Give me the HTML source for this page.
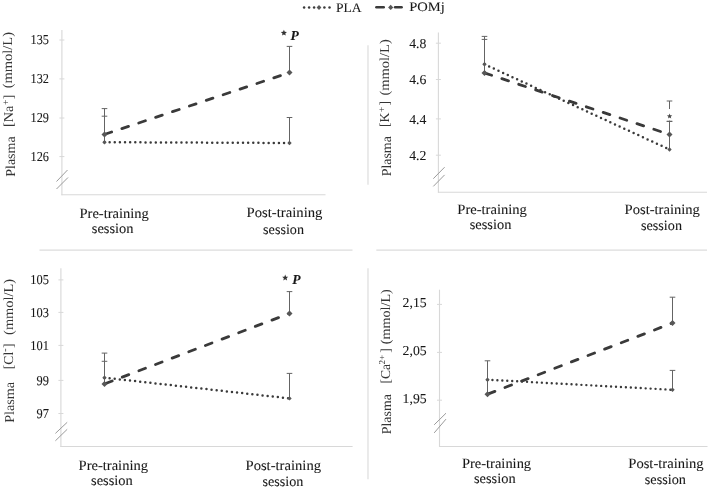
<!DOCTYPE html>
<html><head><meta charset="utf-8"><style>
html,body{margin:0;padding:0;background:#fff;overflow:hidden;}
svg{display:block;will-change:transform;filter:blur(0.3px);}
text{font-family:"Liberation Serif",serif;text-rendering:geometricPrecision;fill:#181818;stroke:#181818;stroke-width:0.08px;}
.ttl text{fill:#353535;stroke:none;}
</style></head><body>
<svg width="709" height="488" viewBox="0 0 709 488">
<line x1="39.5" y1="250.2" x2="352.5" y2="250.2" stroke="#dcdcdc" stroke-width="1.2"/>
<line x1="376.3" y1="250.2" x2="707" y2="250.2" stroke="#dcdcdc" stroke-width="1.2"/>
<line x1="368" y1="45.3" x2="368" y2="184.8" stroke="#e2e2e2" stroke-width="1.4"/>
<line x1="368" y1="268.2" x2="368" y2="479.2" stroke="#e2e2e2" stroke-width="1.4"/>
<line x1="61.9" y1="30" x2="61.9" y2="195.2" stroke="#d8d8d8" stroke-width="1.1" />
<line x1="61.4" y1="194.7" x2="325.5" y2="194.7" stroke="#d8d8d8" stroke-width="1.1" />
<line x1="59.4" y1="40" x2="64.4" y2="40" stroke="#d8d8d8" stroke-width="1" />
<text x="30.5" y="43.9" font-size="13.6" text-anchor="start" textLength="18.4" lengthAdjust="spacingAndGlyphs" >135</text>
<line x1="59.4" y1="78.9" x2="64.4" y2="78.9" stroke="#d8d8d8" stroke-width="1" />
<text x="30.5" y="82.8" font-size="13.6" text-anchor="start" textLength="18.4" lengthAdjust="spacingAndGlyphs" >132</text>
<line x1="59.4" y1="118" x2="64.4" y2="118" stroke="#d8d8d8" stroke-width="1" />
<text x="30.5" y="121.9" font-size="13.6" text-anchor="start" textLength="18.4" lengthAdjust="spacingAndGlyphs" >129</text>
<line x1="59.4" y1="156.6" x2="64.4" y2="156.6" stroke="#d8d8d8" stroke-width="1" />
<text x="30.5" y="160.5" font-size="13.6" text-anchor="start" textLength="18.4" lengthAdjust="spacingAndGlyphs" >126</text>
<line x1="56.5" y1="181.5" x2="67.5" y2="170" stroke="#9a9a9a" stroke-width="1" />
<line x1="56.5" y1="189" x2="68" y2="177.5" stroke="#9a9a9a" stroke-width="1" />
<g class="ttl" transform="translate(14.5,176.8) rotate(-90)"><text x="0" y="0" font-size="13.6" textLength="40.5" lengthAdjust="spacingAndGlyphs">Plasma</text><text x="49.9" y="-1.1" font-size="13.6" textLength="21.2" lengthAdjust="spacingAndGlyphs">[Na</text><text x="71.7" y="-5.5" font-size="9.8">+</text><text x="77.6" y="-1.1" font-size="13.6">]</text><text x="88.5" y="-2.3" font-size="13.6" textLength="56.3" lengthAdjust="spacingAndGlyphs">(mmol/L)</text></g>
<text x="79.5" y="217.5" font-size="14.2" textLength="69.3" lengthAdjust="spacingAndGlyphs">Pre-training</text><text x="91.8" y="233.3" font-size="14.2" textLength="41.8" lengthAdjust="spacingAndGlyphs">session</text><text x="246.6" y="217.3" font-size="14.2" textLength="75.8" lengthAdjust="spacingAndGlyphs">Post-training</text><text x="263.1" y="233.5" font-size="14.2" textLength="40.9" lengthAdjust="spacingAndGlyphs">session</text>
<line x1="104.5" y1="134.4" x2="104.5" y2="108.6" stroke="#646464" stroke-width="1" />
<line x1="101.7" y1="108.6" x2="107.3" y2="108.6" stroke="#646464" stroke-width="1" />
<line x1="104.5" y1="142.2" x2="104.5" y2="116.2" stroke="#646464" stroke-width="1" />
<line x1="101.7" y1="116.2" x2="107.3" y2="116.2" stroke="#646464" stroke-width="1" />
<line x1="289.5" y1="72.6" x2="289.5" y2="46.4" stroke="#646464" stroke-width="1" />
<line x1="286.7" y1="46.4" x2="292.3" y2="46.4" stroke="#646464" stroke-width="1" />
<line x1="289.5" y1="143" x2="289.5" y2="117.5" stroke="#646464" stroke-width="1" />
<line x1="286.7" y1="117.5" x2="292.3" y2="117.5" stroke="#646464" stroke-width="1" />
<line x1="104.5" y1="142.2" x2="289.5" y2="143" stroke="#3a3a3a" stroke-width="2.5" stroke-linecap="round" stroke-dasharray="0 5.13"/>
<line x1="104.5" y1="134.4" x2="289.5" y2="72.6" stroke="#3a3a3a" stroke-width="2.8" stroke-linecap="round" stroke-dasharray="7.0 10.8" stroke-dashoffset="-0.5"/>
<path d="M104.5 140.0L106.7 142.2L104.5 144.39999999999998L102.3 142.2Z" fill="#575757"/>
<path d="M289.5 140.8L291.7 143L289.5 145.2L287.3 143Z" fill="#575757"/>
<path d="M104.5 131.4L107.5 134.4L104.5 137.4L101.5 134.4Z" fill="#575757"/>
<path d="M289.5 69.6L292.5 72.6L289.5 75.6L286.5 72.6Z" fill="#575757"/>
<polygon points="283.90,29.80 284.75,31.83 286.94,32.01 285.28,33.45 285.78,35.59 283.90,34.45 282.02,35.59 282.52,33.45 280.86,32.01 283.05,31.83" fill="#333"/><text x="290.6" y="39.5" font-size="13.6" font-weight="bold" font-style="italic">P</text>
<line x1="438.4" y1="32.4" x2="438.4" y2="192.7" stroke="#d8d8d8" stroke-width="1.1" />
<line x1="437.9" y1="192.2" x2="707" y2="192.2" stroke="#d8d8d8" stroke-width="1.1" />
<line x1="435.9" y1="43.2" x2="440.9" y2="43.2" stroke="#d8d8d8" stroke-width="1" />
<text x="409.2" y="48.0" font-size="13.6" text-anchor="start" textLength="17.2" lengthAdjust="spacingAndGlyphs" >4.8</text>
<line x1="435.9" y1="79.5" x2="440.9" y2="79.5" stroke="#d8d8d8" stroke-width="1" />
<text x="409.2" y="84.3" font-size="13.6" text-anchor="start" textLength="17.2" lengthAdjust="spacingAndGlyphs" >4.6</text>
<line x1="435.9" y1="118.9" x2="440.9" y2="118.9" stroke="#d8d8d8" stroke-width="1" />
<text x="409.2" y="123.7" font-size="13.6" text-anchor="start" textLength="17.2" lengthAdjust="spacingAndGlyphs" >4.4</text>
<line x1="435.9" y1="155.2" x2="440.9" y2="155.2" stroke="#d8d8d8" stroke-width="1" />
<text x="409.2" y="160.0" font-size="13.6" text-anchor="start" textLength="17.2" lengthAdjust="spacingAndGlyphs" >4.2</text>
<line x1="433.3" y1="178.7" x2="444.6" y2="167.2" stroke="#9a9a9a" stroke-width="1" />
<line x1="433.3" y1="186.4" x2="444.6" y2="174.9" stroke="#9a9a9a" stroke-width="1" />
<g class="ttl" transform="translate(390.9,176.3) rotate(-90)"><text x="0" y="0" font-size="13.6" textLength="40.1" lengthAdjust="spacingAndGlyphs">Plasma</text><text x="49.2" y="-1.6" font-size="13.6">[K</text><text x="64.1" y="-6.0" font-size="9.8">+</text><text x="70.7" y="-1.6" font-size="13.6">]</text><text x="80.7" y="-1.7" font-size="13.6" textLength="56.4" lengthAdjust="spacingAndGlyphs">(mmol/L)</text></g>
<text x="457.3" y="213.7" font-size="14.2" textLength="69.6" lengthAdjust="spacingAndGlyphs">Pre-training</text><text x="469.7" y="229.3" font-size="14.2" textLength="41.7" lengthAdjust="spacingAndGlyphs">session</text><text x="624.6" y="213.6" font-size="14.2" textLength="75.3" lengthAdjust="spacingAndGlyphs">Post-training</text><text x="641" y="230.0" font-size="14.2" textLength="41" lengthAdjust="spacingAndGlyphs">session</text>
<line x1="484.5" y1="72.9" x2="484.5" y2="36.4" stroke="#646464" stroke-width="1" />
<line x1="481.7" y1="36.4" x2="487.3" y2="36.4" stroke="#646464" stroke-width="1" />
<line x1="484.5" y1="64.3" x2="484.5" y2="39.4" stroke="#646464" stroke-width="1" />
<line x1="481.7" y1="39.4" x2="487.3" y2="39.4" stroke="#646464" stroke-width="1" />
<line x1="669.5" y1="134.5" x2="669.5" y2="101" stroke="#646464" stroke-width="1" />
<line x1="666.7" y1="101" x2="672.3" y2="101" stroke="#646464" stroke-width="1" />
<line x1="669.5" y1="149.5" x2="669.5" y2="121.3" stroke="#646464" stroke-width="1" />
<line x1="666.7" y1="121.3" x2="672.3" y2="121.3" stroke="#646464" stroke-width="1" />
<line x1="484.5" y1="64.3" x2="669.5" y2="149.5" stroke="#3a3a3a" stroke-width="2.5" stroke-linecap="round" stroke-dasharray="0 5.13"/>
<line x1="484.5" y1="72.9" x2="669.5" y2="134.5" stroke="#3a3a3a" stroke-width="2.8" stroke-linecap="round" stroke-dasharray="7.0 10.8" stroke-dashoffset="-0.5"/>
<path d="M484.5 62.099999999999994L486.7 64.3L484.5 66.5L482.3 64.3Z" fill="#575757"/>
<path d="M669.5 147.3L671.7 149.5L669.5 151.7L667.3 149.5Z" fill="#575757"/>
<path d="M484.5 69.9L487.5 72.9L484.5 75.9L481.5 72.9Z" fill="#575757"/>
<path d="M669.5 131.5L672.5 134.5L669.5 137.5L666.5 134.5Z" fill="#575757"/>
<rect x="665.5" y="109" width="8" height="11.6" fill="#fff"/><polygon points="669.60,113.50 670.28,115.37 672.26,115.43 670.69,116.66 671.25,118.57 669.60,117.45 667.95,118.57 668.51,116.66 666.94,115.43 668.92,115.37" fill="#444"/><line x1="666.7" y1="121.3" x2="672.3" y2="121.3" stroke="#5f5f5f" stroke-width="1"/>
<line x1="60.9" y1="268.3" x2="60.9" y2="447.0" stroke="#d8d8d8" stroke-width="1.1" />
<line x1="60.4" y1="446.5" x2="352.6" y2="446.5" stroke="#d8d8d8" stroke-width="1.1" />
<line x1="58.4" y1="279.9" x2="63.4" y2="279.9" stroke="#d8d8d8" stroke-width="1" />
<text x="30.3" y="284.4" font-size="13.6" text-anchor="start" textLength="18.6" lengthAdjust="spacingAndGlyphs" >105</text>
<line x1="58.4" y1="312.4" x2="63.4" y2="312.4" stroke="#d8d8d8" stroke-width="1" />
<text x="30.3" y="316.9" font-size="13.6" text-anchor="start" textLength="18.6" lengthAdjust="spacingAndGlyphs" >103</text>
<line x1="58.4" y1="345.4" x2="63.4" y2="345.4" stroke="#d8d8d8" stroke-width="1" />
<text x="30.3" y="349.9" font-size="13.6" text-anchor="start" textLength="18.6" lengthAdjust="spacingAndGlyphs" >101</text>
<line x1="58.4" y1="380.4" x2="63.4" y2="380.4" stroke="#d8d8d8" stroke-width="1" />
<text x="36.5" y="384.9" font-size="13.6" text-anchor="start" textLength="12.4" lengthAdjust="spacingAndGlyphs" >99</text>
<line x1="58.4" y1="413.5" x2="63.4" y2="413.5" stroke="#d8d8d8" stroke-width="1" />
<text x="36.5" y="418.0" font-size="13.6" text-anchor="start" textLength="12.4" lengthAdjust="spacingAndGlyphs" >97</text>
<line x1="55.4" y1="433.4" x2="67.2" y2="422.3" stroke="#9a9a9a" stroke-width="1" />
<line x1="55.4" y1="440.8" x2="67.2" y2="429.3" stroke="#9a9a9a" stroke-width="1" />
<g class="ttl" transform="translate(13.8,422.8) rotate(-90)"><text x="0" y="0" font-size="13.6" textLength="40.9" lengthAdjust="spacingAndGlyphs">Plasma</text><text x="53.6" y="-1" font-size="13.6">[Cl</text><text x="71.0" y="-5.5" font-size="9.8">-</text><text x="74.7" y="-1" font-size="13.6">]</text><text x="87.9" y="-1.1" font-size="13.6" textLength="55.9" lengthAdjust="spacingAndGlyphs">(mmol/L)</text></g>
<text x="78.6" y="469.7" font-size="14.2" textLength="69.4" lengthAdjust="spacingAndGlyphs">Pre-training</text><text x="91" y="485.4" font-size="14.2" textLength="41.8" lengthAdjust="spacingAndGlyphs">session</text><text x="245.5" y="469.5" font-size="14.2" textLength="75.5" lengthAdjust="spacingAndGlyphs">Post-training</text><text x="262.4" y="486.2" font-size="14.2" textLength="40.9" lengthAdjust="spacingAndGlyphs">session</text>
<line x1="104.5" y1="383.9" x2="104.5" y2="353.1" stroke="#646464" stroke-width="1" />
<line x1="101.7" y1="353.1" x2="107.3" y2="353.1" stroke="#646464" stroke-width="1" />
<line x1="104.5" y1="377.7" x2="104.5" y2="361.3" stroke="#646464" stroke-width="1" />
<line x1="101.7" y1="361.3" x2="107.3" y2="361.3" stroke="#646464" stroke-width="1" />
<line x1="289.5" y1="313.4" x2="289.5" y2="291.6" stroke="#646464" stroke-width="1" />
<line x1="286.7" y1="291.6" x2="292.3" y2="291.6" stroke="#646464" stroke-width="1" />
<line x1="289.5" y1="398.4" x2="289.5" y2="373.4" stroke="#646464" stroke-width="1" />
<line x1="286.7" y1="373.4" x2="292.3" y2="373.4" stroke="#646464" stroke-width="1" />
<line x1="104.5" y1="377.7" x2="289.5" y2="398.4" stroke="#3a3a3a" stroke-width="2.5" stroke-linecap="round" stroke-dasharray="0 5.13"/>
<line x1="104.5" y1="383.9" x2="289.5" y2="313.4" stroke="#3a3a3a" stroke-width="2.8" stroke-linecap="round" stroke-dasharray="7.0 10.8" stroke-dashoffset="-1.2"/>
<path d="M104.5 375.5L106.7 377.7L104.5 379.9L102.3 377.7Z" fill="#575757"/>
<path d="M289.5 396.2L291.7 398.4L289.5 400.59999999999997L287.3 398.4Z" fill="#575757"/>
<path d="M104.5 380.9L107.5 383.9L104.5 386.9L101.5 383.9Z" fill="#575757"/>
<path d="M289.5 310.4L292.5 313.4L289.5 316.4L286.5 313.4Z" fill="#575757"/>
<polygon points="285.20,274.60 286.05,276.63 288.24,276.81 286.58,278.25 287.08,280.39 285.20,279.25 283.32,280.39 283.82,278.25 282.16,276.81 284.35,276.63" fill="#333"/><text x="292.3" y="283.6" font-size="13.6" font-weight="bold" font-style="italic">P</text>
<line x1="439.5" y1="289.7" x2="439.5" y2="447.0" stroke="#d8d8d8" stroke-width="1.1" />
<line x1="439.0" y1="446.5" x2="707.5" y2="446.5" stroke="#d8d8d8" stroke-width="1.1" />
<line x1="437.0" y1="304.4" x2="442.0" y2="304.4" stroke="#d8d8d8" stroke-width="1" />
<text x="402.6" y="307.0" font-size="13.6" text-anchor="start" textLength="24.0" lengthAdjust="spacingAndGlyphs" >2,15</text>
<line x1="437.0" y1="352.4" x2="442.0" y2="352.4" stroke="#d8d8d8" stroke-width="1" />
<text x="402.6" y="355.0" font-size="13.6" text-anchor="start" textLength="24.0" lengthAdjust="spacingAndGlyphs" >2,05</text>
<line x1="437.0" y1="400.2" x2="442.0" y2="400.2" stroke="#d8d8d8" stroke-width="1" />
<text x="402.6" y="402.8" font-size="13.6" text-anchor="start" textLength="24.0" lengthAdjust="spacingAndGlyphs" >1,95</text>
<line x1="434.2" y1="424.8" x2="446" y2="413.2" stroke="#9a9a9a" stroke-width="1" />
<line x1="434.2" y1="432.9" x2="446" y2="419.1" stroke="#9a9a9a" stroke-width="1" />
<g class="ttl" transform="translate(391.3,434.2) rotate(-90)"><text x="0" y="0" font-size="13.6" textLength="40" lengthAdjust="spacingAndGlyphs">Plasma</text><text x="50.7" y="-0.9" font-size="13.6">[Ca</text><text x="69.7" y="-6.1" font-size="9">2+</text><text x="81.4" y="-0.9" font-size="13.6">]</text><text x="90" y="-1.1" font-size="13.6" textLength="55" lengthAdjust="spacingAndGlyphs">(mmol/L)</text></g>
<text x="462" y="467.6" font-size="14.2" textLength="69.1" lengthAdjust="spacingAndGlyphs">Pre-training</text><text x="474" y="483.1" font-size="14.2" textLength="41.6" lengthAdjust="spacingAndGlyphs">session</text><text x="628.3" y="467.7" font-size="14.2" textLength="75.3" lengthAdjust="spacingAndGlyphs">Post-training</text><text x="644.8" y="484.2" font-size="14.2" textLength="41.2" lengthAdjust="spacingAndGlyphs">session</text>
<line x1="487.5" y1="394.2" x2="487.5" y2="360.8" stroke="#646464" stroke-width="1" />
<line x1="484.7" y1="360.8" x2="490.3" y2="360.8" stroke="#646464" stroke-width="1" />
<line x1="672.5" y1="323" x2="672.5" y2="297.2" stroke="#646464" stroke-width="1" />
<line x1="669.7" y1="297.2" x2="675.3" y2="297.2" stroke="#646464" stroke-width="1" />
<line x1="672.5" y1="389.8" x2="672.5" y2="370.4" stroke="#646464" stroke-width="1" />
<line x1="669.7" y1="370.4" x2="675.3" y2="370.4" stroke="#646464" stroke-width="1" />
<line x1="487.5" y1="379.7" x2="672.5" y2="389.8" stroke="#3a3a3a" stroke-width="2.4" stroke-linecap="round" stroke-dasharray="0 4.95"/>
<line x1="487.5" y1="394.2" x2="672.5" y2="323" stroke="#3a3a3a" stroke-width="2.8" stroke-linecap="round" stroke-dasharray="7.0 10.8" stroke-dashoffset="-0.9"/>
<path d="M487.5 377.5L489.7 379.7L487.5 381.9L485.3 379.7Z" fill="#575757"/>
<path d="M672.5 387.6L674.7 389.8L672.5 392.0L670.3 389.8Z" fill="#575757"/>
<path d="M487.5 391.2L490.5 394.2L487.5 397.2L484.5 394.2Z" fill="#575757"/>
<path d="M672.5 320.0L675.5 323L672.5 326.0L669.5 323Z" fill="#575757"/>

<circle cx="304.1" cy="7.5" r="1.25" fill="#3a3a3a"/>
<circle cx="309.1" cy="7.5" r="1.25" fill="#3a3a3a"/>
<circle cx="314.1" cy="7.5" r="1.25" fill="#3a3a3a"/>
<circle cx="324.4" cy="7.5" r="1.25" fill="#3a3a3a"/>
<circle cx="329.5" cy="7.5" r="1.25" fill="#3a3a3a"/>
<path d="M319 5.1L321.4 7.5L319 9.9L316.6 7.5Z" fill="#575757"/>
<text x="336" y="11.6" font-size="13" text-anchor="start" textLength="25.6" lengthAdjust="spacingAndGlyphs" >PLA</text>
<line x1="376.4" y1="7.3" x2="383.7" y2="7.3" stroke="#3a3a3a" stroke-width="2.6" stroke-linecap="round"/>
<line x1="395.1" y1="7.3" x2="401.6" y2="7.3" stroke="#3a3a3a" stroke-width="2.6" stroke-linecap="round"/>
<path d="M390.7 4.800000000000001L393.3 7.4L390.7 10.0L388.09999999999997 7.4Z" fill="#575757"/>
<text x="409.2" y="11.0" font-size="13" text-anchor="start" textLength="35.6" lengthAdjust="spacingAndGlyphs" >POMj</text>
</svg></body></html>
